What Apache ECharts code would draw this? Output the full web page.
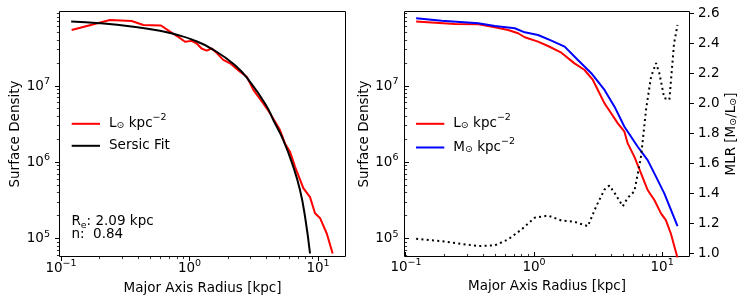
<!DOCTYPE html>
<html><head><meta charset="utf-8">
<script src="https://cdn.jsdelivr.net/npm/echarts@6/dist/echarts.min.js"></script>
<style>html,body{margin:0;padding:0;background:#fff}#c{width:748px;height:305px}</style>
</head><body><div id="c"></div>
<script>
// ---------- data ----------
const radiusLeft = [0.121, 0.240, 0.355, 0.437, 0.600, 0.705, 0.818, 0.923, 1.04, 1.14, 1.24, 1.36, 1.49, 1.63, 1.83, 2.07, 2.47, 2.79, 3.14, 3.75, 4.23, 5.06, 5.53, 6.05, 6.62, 7.69, 8.67, 9.48, 10.4, 11.7, 13.0];
const lumLeft = [5.4e7, 7.3e7, 7.1e7, 6.3e7, 6.2e7, 5.15e7, 4.4e7, 3.8e7, 3.9e7, 3.6e7, 3.1e7, 2.9e7, 3.1e7, 2.7e7, 2.2e7, 1.98e7, 1.54e7, 1.32e7, 8.9e6, 5.9e6, 4.4e6, 2.65e6, 1.77e6, 1.38e6, 8.8e5, 4.6e5, 3.5e5, 2.15e5, 1.85e5, 1.17e5, 6.4e4];
const sersicRadius = [0.120, 0.201, 0.366, 0.589, 0.77, 1.05, 1.50, 2.25, 2.95, 3.99, 4.49, 5.37, 6.43, 7.25, 7.93, 8.67];
const sersicValue = [6.97e7, 6.64e7, 5.99e7, 5.3e7, 4.75e7, 4.05e7, 3.05e7, 1.88e7, 1.14e7, 5.4e6, 3.58e6, 1.96e6, 8.7e5, 4.3e5, 1.94e5, 6.4e4];

const radiusLumRight = [0.120, 0.241, 0.367, 0.494, 0.627, 0.751, 0.846, 1.074, 1.285, 1.634, 2.07, 2.48, 2.88, 3.15, 3.55, 4.00, 4.51, 5.08, 5.39, 6.08, 6.85, 7.71, 8.70, 9.80, 10.7, 11.7, 13.2];
const lumRight = [6.97e7, 6.50e7, 6.44e7, 5.88e7, 5.42e7, 4.91e7, 4.35e7, 3.81e7, 3.34e7, 2.73e7, 1.98e7, 1.62e7, 1.20e7, 8.87e6, 5.93e6, 4.39e6, 3.24e6, 2.52e6, 1.77e6, 1.18e6, 7.17e5, 4.34e5, 3.21e5, 2.15e5, 1.75e5, 1.17e5, 5.6e4];
const radiusMassRight = [0.120, 0.190, 0.367, 0.494, 0.707, 0.846, 1.074, 1.366, 1.734, 2.20, 2.80, 3.55, 4.25, 5.08, 6.45, 7.71, 8.70, 10.4, 13.2];
const massRight = [7.71e7, 7.18e7, 6.64e7, 6.11e7, 5.70e7, 5.05e7, 4.66e7, 3.93e7, 3.28e7, 2.19e7, 1.47e7, 8.87e6, 5.36e6, 2.93e6, 1.60e6, 1.07e6, 7.17e5, 3.93e5, 1.46e5];
const radiusMLR = [0.120, 0.190, 0.367, 0.494, 0.627, 0.798, 1.01, 1.285, 1.634, 2.07, 2.63, 3.06, 3.55, 3.88, 4.25, 4.93, 5.39, 6.08, 6.85, 7.49, 8.20, 8.97, 9.51, 10.4, 11.4, 12.4, 13.2];
const mlrValues = [1.097, 1.081, 1.048, 1.053, 1.093, 1.159, 1.237, 1.252, 1.219, 1.210, 1.181, 1.314, 1.425, 1.452, 1.403, 1.314, 1.370, 1.414, 1.647, 1.957, 2.178, 2.268, 2.201, 2.035, 2.024, 2.400, 2.522];

const xMajorTicks = [0.1, 1, 10];
const xMinorTicks = [0.2, 0.3, 0.4, 0.5, 0.6, 0.7, 0.8, 0.9, 2, 3, 4, 5, 6, 7, 8, 9];
const yMajorTicks = [1e5, 1e6, 1e7];
const yMinorTicks = [6e4, 7e4, 8e4, 9e4, 2e5, 3e5, 4e5, 5e5, 6e5, 7e5, 8e5, 9e5, 2e6, 3e6, 4e6, 5e6, 6e6, 7e6, 8e6, 9e6, 2e7, 3e7, 4e7, 5e7, 6e7, 7e7, 8e7, 9e7];
const mlrTicks = [1.0, 1.2, 1.4, 1.6, 1.8, 2.0, 2.2, 2.4, 2.6];

// ---------- layout / style ----------
const F = 'DejaVu Sans';
const FS = 13.5;
const G0 = {left: 59.5, top: 11.5, width: 286, height: 245};
const G1 = {left: 404.5, top: 11.5, width: 285, height: 245};
const X_MIN = Math.pow(10, -1.0117), X_MAX = Math.pow(10, 1.214);
const Y_MIN = Math.pow(10, 4.7669), Y_MAX = Math.pow(10, 7.9758);
const MLR_MIN = 0.979, MLR_MAX = 2.612;

function pairs(xs, ys) { return xs.map((x, i) => [x, ys[i]]); }
function powLabel(v) {
  const l = Math.log10(v), e = Math.round(l);
  if (Math.abs(l - e) > 1e-6) return '';
  return '{b|10}{s|' + (e < 0 ? '\u2212' + (-e) : String(e)) + '}';
}
const powRich = {
  b: {fontFamily: F, fontSize: FS, color: '#000', lineHeight: 18, verticalAlign: 'middle'},
  s: {fontFamily: F, fontSize: 9.5, color: '#000', lineHeight: 18, verticalAlign: 'middle', padding: [0, 0, 9, 0]}
};
const txtRich = {
  t: {fontFamily: F, fontSize: FS, color: '#000', lineHeight: 14, verticalAlign: 'middle'},
  t0: {fontFamily: F, fontSize: FS, color: '#000', lineHeight: 14, verticalAlign: 'middle', padding: [0, 0, 0, 4]},
  sub: {fontFamily: F, fontSize: 9.5, color: '#000', lineHeight: 14, verticalAlign: 'middle', padding: [4, 0, 0, 0]},
  sube: {fontFamily: F, fontSize: 9.5, color: '#000', lineHeight: 14, verticalAlign: 'middle', padding: [8, 0, 0, 0]},
  sup: {fontFamily: F, fontSize: 9.5, color: '#000', lineHeight: 14, verticalAlign: 'middle', padding: [0, 0, 12, 0]}
};
const legendNames = {
  lumL: '{t0|L}{sub|\u2299}{t| kpc}{sup|\u22122}',
  fit: '{t0|Sersic Fit}',
  lumR: '{t0|L}{sub|\u2299}{t| kpc}{sup|\u22122}',
  massR: '{t0|M}{sub|\u2299}{t| kpc}{sup|\u22122}'
};

function logX(gi, margin) {
  return {type: 'log', gridIndex: gi, min: X_MIN, max: X_MAX,
    axisLine: {show: false}, axisTick: {show: false}, splitLine: {show: false}, minorTick: {show: false},
    axisLabel: {formatter: powLabel, rich: powRich, margin: margin, hideOverlap: false}};
}
function logY(gi, margin) {
  return {type: 'log', gridIndex: gi, min: Y_MIN, max: Y_MAX,
    axisLine: {show: false}, axisTick: {show: false}, splitLine: {show: false}, minorTick: {show: false},
    axisLabel: {formatter: powLabel, rich: powRich, margin: margin, hideOverlap: false}};
}

const chart = echarts.init(document.getElementById('c'), null, {renderer: 'canvas'});
const baseLine = {type: 'line', showSymbol: false, symbol: 'none', silent: true, animation: false, clip: true};

chart.setOption({
  animation: false,
  backgroundColor: '#fff',
  grid: [
    Object.assign({show: true, borderColor: '#000', borderWidth: 1, backgroundColor: 'transparent'}, G0),
    Object.assign({show: true, borderColor: '#000', borderWidth: 1, backgroundColor: 'transparent'}, G1)
  ],
  xAxis: [logX(0, 3), logX(1, 1.5)],
  yAxis: [
    logY(0, 9.5),
    logY(1, 6),
    {type: 'value', gridIndex: 1, position: 'right', min: MLR_MIN, max: MLR_MAX, minInterval: 0.2, maxInterval: 0.2,
     axisLine: {show: false}, axisTick: {show: false}, splitLine: {show: false},
     axisLabel: {margin: 8.5, fontFamily: F, fontSize: FS, color: '#000', hideOverlap: false,
       formatter: v => (Math.abs(v * 5 - Math.round(v * 5)) < 1e-6 ? v.toFixed(1) : '')}}
  ],
  legend: [
    {data: ['lumL', 'fit'], orient: 'vertical', left: 70.7, top: 112.8, padding: 0, itemWidth: 28.3, itemHeight: 14, itemGap: 4,
     selectedMode: false, itemStyle: {opacity: 0, borderWidth: 0}, formatter: n => legendNames[n],
     textStyle: {fontFamily: F, fontSize: FS, color: '#000', rich: txtRich}},
    {data: ['lumR', 'massR'], orient: 'vertical', left: 415, top: 112.8, padding: 0, itemWidth: 28.3, itemHeight: 14, itemGap: 1.7,
     selectedMode: false, itemStyle: {opacity: 0, borderWidth: 0}, formatter: n => legendNames[n],
     textStyle: {fontFamily: F, fontSize: FS, color: '#000', rich: txtRich}}
  ],
  series: [
    Object.assign({}, baseLine, {name: 'lumL', xAxisIndex: 0, yAxisIndex: 0, data: pairs(radiusLeft, lumLeft),
      color: '#ff0000', lineStyle: {color: '#ff0000', width: 2}}),
    Object.assign({}, baseLine, {name: 'fit', xAxisIndex: 0, yAxisIndex: 0, data: pairs(sersicRadius, sersicValue), smooth: 0.5,
      color: '#000000', lineStyle: {color: '#000000', width: 2}}),
    Object.assign({}, baseLine, {name: 'lumR', xAxisIndex: 1, yAxisIndex: 1, data: pairs(radiusLumRight, lumRight),
      color: '#ff0000', lineStyle: {color: '#ff0000', width: 2}}),
    Object.assign({}, baseLine, {name: 'massR', xAxisIndex: 1, yAxisIndex: 1, data: pairs(radiusMassRight, massRight),
      color: '#0000ff', lineStyle: {color: '#0000ff', width: 2}}),
    Object.assign({}, baseLine, {name: 'mlr', xAxisIndex: 1, yAxisIndex: 2, data: pairs(radiusMLR, mlrValues),
      color: '#000000', lineStyle: {color: '#000000', width: 2, type: [2, 3.3], cap: 'butt'}})
  ]
});

// ---------- ticks + axis titles as graphic ----------
const els = [];
const crisp = v => Math.round(v - 0.5) + 0.5;
function seg(x1, y1, x2, y2, w) {
  els.push({type: 'line', silent: true, z: 100, shape: {x1, y1, x2, y2}, style: {stroke: '#000', lineWidth: w}});
}
const MAJ = 4.5, MIN = 2.6;
const g0b = G0.top + G0.height, g1b = G1.top + G1.height, g1r = G1.left + G1.width;
// left panel (outward)
xMajorTicks.forEach(v => { const x = crisp(chart.convertToPixel({xAxisIndex: 0}, v)); seg(x, g0b, x, g0b + MAJ, 1); });
xMinorTicks.forEach(v => { const x = crisp(chart.convertToPixel({xAxisIndex: 0}, v)); seg(x, g0b, x, g0b + MIN, 0.8); });
yMajorTicks.forEach(v => { const y = crisp(chart.convertToPixel({yAxisIndex: 0}, v)); seg(G0.left - MAJ, y, G0.left, y, 1); });
yMinorTicks.forEach(v => { const y = crisp(chart.convertToPixel({yAxisIndex: 0}, v)); seg(G0.left - MIN, y, G0.left, y, 0.8); });
// right panel main axes (inward)
xMajorTicks.forEach(v => { const x = crisp(chart.convertToPixel({xAxisIndex: 1}, v)); seg(x, g1b - MAJ, x, g1b, 1); });
xMinorTicks.forEach(v => { const x = crisp(chart.convertToPixel({xAxisIndex: 1}, v)); seg(x, g1b - MIN, x, g1b, 0.8); });
yMajorTicks.forEach(v => { const y = crisp(chart.convertToPixel({yAxisIndex: 1}, v)); seg(G1.left, y, G1.left + MAJ, y, 1); });
yMinorTicks.forEach(v => { const y = crisp(chart.convertToPixel({yAxisIndex: 1}, v)); seg(G1.left, y, G1.left + MIN, y, 0.8); });
// MLR axis (outward right)
mlrTicks.forEach(v => { const y = crisp(chart.convertToPixel({yAxisIndex: 2}, v)); seg(g1r, y, g1r + MAJ, y, 1); });

function txt(x, y, text, rot, align) {
  els.push({type: 'text', silent: true, z: 100, x, y, rotation: rot || 0,
    style: {text, fontFamily: F, fontSize: FS, fill: '#000', align: align || 'center', verticalAlign: 'middle', rich: txtRich}});
}
txt(15, 134, 'Surface Density', Math.PI / 2);
txt(364, 134, 'Surface Density', Math.PI / 2);
txt(202.5, 288, 'Major Axis Radius [kpc]', 0);
txt(547, 286, 'Major Axis Radius [kpc]', 0);
txt(731.7, 134, '{t|MLR [M}{sub|\u2299}{t|/L}{sub|\u2299}{t|]}', Math.PI / 2);
txt(71.4, 221.5, '{t|R}{sube|e}{t|: 2.09 kpc}', 0, 'left');
txt(71.4, 234, '{t|n:  0.84}', 0, 'left');

chart.setOption({graphic: {elements: els}});
</script>
</body></html>
